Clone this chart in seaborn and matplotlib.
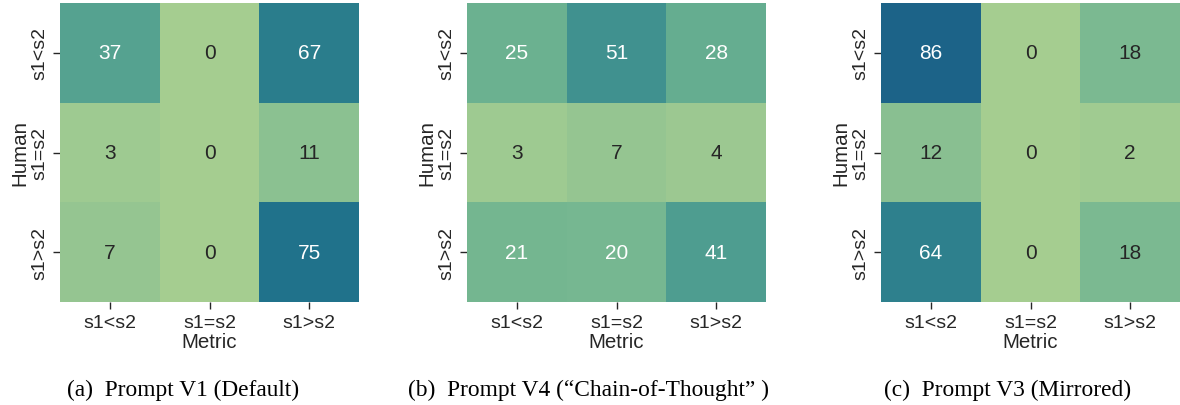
import matplotlib
matplotlib.use("Agg")
import matplotlib.pyplot as plt
import numpy as np
import pandas as pd
import seaborn as sns

# confusion counts: rows = Human, cols = Metric
labels = ["s1<s2", "s1=s2", "s1>s2"]

v1_default = [[37, 0, 67],
              [3, 0, 11],
              [7, 0, 75]]

v4_cot = [[25, 51, 28],
          [3, 7, 4],
          [21, 20, 41]]

v3_mirrored = [[86, 0, 18],
               [12, 0, 2],
               [64, 0, 18]]

captions = ["(a)  Prompt V1 (Default)",
            "(b)  Prompt V4 (\u201cChain-of-Thought\u201d )",
            "(c)  Prompt V3 (Mirrored)"]

sns.set_theme(style="ticks")
plt.rcParams["font.family"] = ["Liberation Sans", "DejaVu Sans"]

fig = plt.figure(figsize=(11.8, 4.06), dpi=100)

lefts = [60 / 1180, 467 / 1180, 881 / 1180]
cap_x = [183 / 1180, 589 / 1180, 1008 / 1180]
w = 299 / 1180
h = 299 / 406
b = 1 - 303 / 406

for data, cap, left, cx in zip([v1_default, v4_cot, v3_mirrored], captions, lefts, cap_x):
    ax = fig.add_axes([left, b, w, h])
    df = pd.DataFrame(data, index=labels, columns=labels)
    sns.heatmap(df, ax=ax, cmap="crest", vmin=0, vmax=120, annot=True, fmt="d",
                cbar=False, annot_kws={"fontsize": 15})
    ax.set_xlabel("Metric", fontsize=14.8, labelpad=1)
    ax.set_ylabel("Human", fontsize=14.8, labelpad=1)
    ax.tick_params(axis="both", labelsize=14, length=5, width=1, color="#262626")
    ax.set_yticklabels(labels, rotation=90, va="center")
    ax.set_xticklabels(labels, rotation=0)
    fig.text(cx, 1 - 390 / 406, cap, ha="center", va="center", fontsize=16.8,
             family=["Liberation Serif", "DejaVu Serif"], color="black")

fig.savefig("out.png", dpi=100)
